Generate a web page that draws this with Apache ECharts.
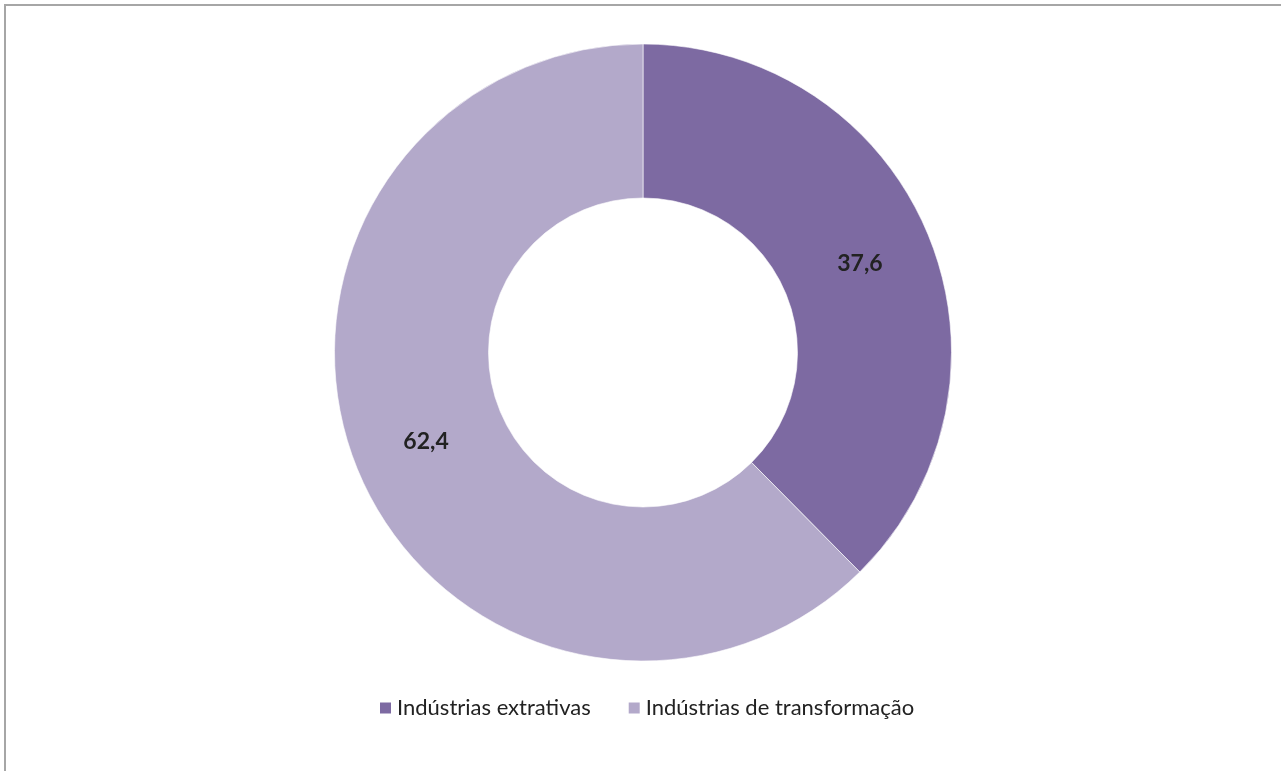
<!DOCTYPE html>
<html>
<head>
<meta charset="utf-8">
<script src="https://cdn.jsdelivr.net/npm/echarts@6/dist/echarts.min.js"></script>
<style>
html,body{margin:0;padding:0;background:#fff;}
#chart{width:1281px;height:771px;}
</style>
</head>
<body>
<div id="chart"></div>
<script>
const categories = ['Indústrias extrativas', 'Indústrias de transformação'];
const values = [37.6, 62.4];
const colors = ['#7D6AA2', '#B3A9CA'];

const chart = echarts.init(document.getElementById('chart'));
chart.setOption({
  animation: false,
  backgroundColor: '#fff',
  color: colors,
  graphic: [{
    type: 'rect',
    shape: { x: 5, y: 5, width: 1400, height: 900 },
    style: { fill: 'none', stroke: '#A6A6A6', lineWidth: 2 },
    silent: true
  }],
  legend: {
    top: 692,
    left: 373,
    itemWidth: 13,
    itemHeight: 13,
    itemGap: 36,
    icon: 'rect',
    textStyle: { fontFamily: 'Lato', fontSize: 22, color: '#222' },
    data: categories
  },
  series: [{
    type: 'pie',
    center: [643, 352.5],
    radius: [154.5, 308.5],
    startAngle: 90,
    clockwise: true,
    itemStyle: { borderColor: '#fff', borderWidth: 0.6 },
    label: {
      show: true,
      position: 'inside',
      formatter: p => String(p.value).replace('.', ','),
      fontFamily: 'Lato',
      fontWeight: 'bold',
      fontSize: 23,
      color: '#222'
    },
    labelLine: { show: false },
    emphasis: { disabled: true },
    data: categories.map((c, i) => ({ name: c, value: values[i] }))
  }]
});
</script>
</body>
</html>
